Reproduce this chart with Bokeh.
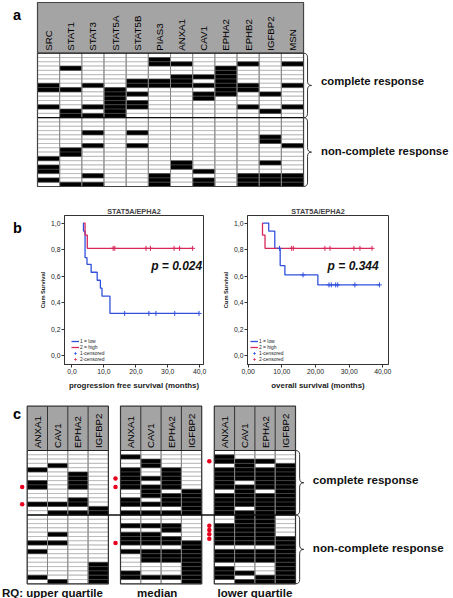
import math
from bokeh.plotting import figure
from bokeh.layouts import column, row
from bokeh.models import Range1d, FixedTicker, CustomJSTickFormatter, Legend, LegendItem
from bokeh.core.properties import value
from bokeh.embed import file_html
from bokeh.resources import INLINE

# ---------------- data ----------------
# panel a: rows 0-14 = complete response, rows 15-30 = non-complete response
genes_a = ["SRC", "STAT1", "STAT3", "STAT5A", "STAT5B", "PIAS3",
           "ANXA1", "CAV1", "EPHA2", "EPHB2", "IGFBP2", "MSN"]
n_complete = 15
n_noncomplete = 16
group_labels = ["complete response", "non-complete response"]

a_SRC = [7, 8, 12, 24, 26, 27, 29]
a_STAT1 = [3, 8, 13, 14, 22, 23, 30]
a_STAT3 = [7, 12, 14, 18, 21, 28, 30]
a_STAT5A = [8, 9, 10, 11, 12, 13, 14]
a_STAT5B = [6, 7, 9, 11, 12, 18, 21]
a_PIAS3 = [1, 2, 6, 7, 28, 29, 30]
a_ANXA1 = [2, 5, 6, 7, 25, 26]
a_CAV1 = [5, 7, 9, 10, 27, 29, 30]
a_EPHA2 = [3, 4, 5, 6, 7, 8, 9]
a_EPHB2 = [2, 7, 8, 12, 28, 29, 30]
a_IGFBP2 = [9, 13, 19, 20, 25, 28, 29, 30]
a_MSN = [2, 7, 12, 21, 28, 29, 30]

# panel b: Kaplan-Meier steps (time in months, cumulative survival)
km_title = "STAT5A/EPHA2"
pfs_low_t = [3.5, 3.6, 4.1, 4.7, 6.0, 7.9, 8.9, 9.4, 11.9, 39.8]
pfs_low_s = [1.0, 0.94, 0.74, 0.69, 0.63, 0.57, 0.51, 0.45, 0.32, 0.32]
pfs_low_cens = [16.5, 24.1, 26.3, 32.2, 39.8]
pfs_high_t = [3.7, 4.1, 4.8, 37.8]
pfs_high_s = [1.0, 0.91, 0.81, 0.81]
pfs_high_cens = [12.9, 13.4, 23.2, 24.6, 32.0, 33.7, 37.8]
os_low_t = [4.4, 6.1, 7.9, 9.5, 10.9, 20.7, 39.0]
os_low_s = [1.0, 0.94, 0.81, 0.68, 0.61, 0.535, 0.535]
os_low_cens = [9.3, 16.3, 24.0, 24.7, 26.0, 26.6, 31.7, 39.0]
os_high_t = [4.2, 4.25, 5.0, 36.8]
os_high_s = [1.0, 0.91, 0.81, 0.81]
os_high_cens = [12.9, 13.4, 22.8, 24.3, 31.4, 33.2, 36.8]
p_values = ["p = 0.024", "p = 0.344"]
p_pos_t = [24.8, 23.6]
p_pos_s = [0.68, 0.68]
x_titles = ["progression free survival (months)", "overall survival (months)"]
legend_labels = ["1 = low", "2 = high", "1-censored", "2-censored"]

# panel c
genes_c = ["ANXA1", "CAV1", "EPHA2", "IGFBP2"]
rq_labels = ["RQ: upper quartile", "median", "lower quartile"]
upper_ANXA1 = [4, 7, 8, 12, 21, 23, 29]
upper_CAV1 = [3, 12, 14, 19, 21, 30]
upper_EPHA2 = [5, 6, 7, 8, 11, 12, 14]
upper_IGFBP2 = [13, 14, 26, 27, 28, 29, 30]
median_ANXA1 = [1, 4, 5, 6, 7, 8, 11, 12, 14, 17, 19, 20, 21, 23, 28, 29]
median_CAV1 = [2, 3, 6, 8, 9, 10, 12, 14, 17, 19, 20, 21, 23, 24, 25, 29]
median_EPHA2 = [4, 5, 6, 7, 8, 10, 11, 12, 14, 17, 18, 20, 21, 23, 24, 25, 29]
median_IGFBP2 = [9, 10, 11, 12, 13, 14, 21, 22, 23, 24, 25, 26, 27, 28, 29, 30]
# lower quartile: rows that stay low (white); all other rows are high
lower_ANXA1_low = [0, 3, 9, 15, 16, 22, 26, 30]
lower_CAV1_low = [0, 1, 7, 13, 22, 26, 27, 29]
lower_EPHA2_low = [0, 1, 3, 9, 22, 26, 27, 28]
lower_IGFBP2_low = [0, 1, 2, 15, 16, 17, 18, 19]
dots_upper = [8, 12]
dots_median = [6, 8, 21]
dots_lower = [2, 17, 18, 19, 20]

# ---------------- layout constants (page px) ----------------
FONT = value("Liberation Sans")
W = 453
HA, HB, HC = 203, 189, 206
X0, X1 = 0.0, float(W)
YA0 = 0.0
YB0 = YA0 + HA
YC0 = YB0 + HB
YC1 = YC0 + HC
RH = 4.3
N = n_complete + n_noncomplete
HEAD_FILL = "#a4a4a4"


def base_fig(width, height, xr, yr):
    p = figure(width=width, height=height, x_range=Range1d(*xr), y_range=Range1d(*yr),
               output_backend="svg", toolbar_location=None, x_axis_type=None,
               y_axis_type=None, min_border=0)
    p.min_border_left = p.min_border_right = p.min_border_top = p.min_border_bottom = 0
    p.outline_line_color = None
    return p


def draw_cells(p, x_left, high_lists):
    wl, wr, wt, wb = [], [], [], []
    bl, br, bt, bb = [], [], [], []
    for ci, hi in enumerate(high_lists):
        for r in range(N):
            if r in hi:
                bl.append(x_left + ci); br.append(x_left + ci + 1); bt.append(r); bb.append(r + 1)
            else:
                wl.append(x_left + ci); wr.append(x_left + ci + 1); wt.append(r); wb.append(r + 1)
    p.quad(left=wl, right=wr, top=wt, bottom=wb, fill_color="white",
           line_color="#bcbcbc", line_width=1)
    p.quad(left=bl, right=br, top=bt, bottom=bb, fill_color="black",
           line_color="#4a4a4a", line_width=0.6)
    ncol = len(high_lists)
    xs = [x_left + i for i in range(1, ncol)]
    p.segment(x0=xs, y0=[0] * len(xs), x1=xs, y1=[N] * len(xs), line_color="#858585", line_width=1)


def brace(p, x0, y0, y1, w, q):
    xm = x0 + w / 2.0
    ym = (y0 + y1) / 2.0
    p.quadratic(x0=[x0, xm, xm, xm], y0=[y0, ym - q, ym + q, y1 - q],
                x1=[xm, x0 + w, x0 + w, x0], y1=[y0 + q, ym, ym, y1],
                cx=[xm, xm, xm, xm], cy=[y0, ym, ym, y1], line_color="#333333", line_width=1)
    p.segment(x0=[xm, xm], y0=[y0 + q, ym + q], x1=[xm, xm], y1=[ym - q, y1 - q],
              line_color="#333333", line_width=1)


# ---------------- panel a ----------------
GLa, CWa, GTa = 37.0, 22.17, 52.7
ax = lambda v: (v - GLa) / CWa
ay = lambda v: (v - GTa) / RH
pa = base_fig(W, HA, (ax(X0), ax(X1)), (ay(YB0), ay(YA0)))
a_high = [a_SRC, a_STAT1, a_STAT3, a_STAT5A, a_STAT5B, a_PIAS3,
          a_ANXA1, a_CAV1, a_EPHA2, a_EPHB2, a_IGFBP2, a_MSN]
na = len(genes_a)
pa.quad(left=[0], right=[na], top=[ay(2.0)], bottom=[0], fill_color=HEAD_FILL, line_color=None)
draw_cells(pa, 0, a_high)
pa.text(x=[i + 0.5 for i in range(na)], y=[ay(50.3)] * na, text=genes_a, angle=math.pi / 2,
        text_align="left", text_baseline="middle", text_font=FONT, text_font_size="9.7px",
        text_color="black")
pa.segment(x0=[0, 0], y0=[0, n_complete], x1=[na, na], y1=[0, n_complete],
           line_color="#111111", line_width=1.3)
pa.quad(left=[0], right=[na], top=[ay(2.0)], bottom=[N], fill_color=None,
        line_color="#444444", line_width=1.2)
bw = 8.0 / CWa
brace(pa, na, 0, n_complete, bw, 1.0)
brace(pa, na, n_complete, N, bw, 1.0)
pa.text(x=[ax(320.5)] * 2, y=[ay(80.5), ay(150.5)], text=group_labels, text_align="left",
        text_baseline="middle", text_font=FONT, text_font_style="bold", text_font_size="11.3px",
        text_color="#111111")
pa.text(x=[ax(12.5)], y=[ay(14.0)], text=["a"], text_align="left", text_baseline="alphabetic",
        text_font=FONT, text_font_style="bold", text_font_size="14.5px", text_color="black")

# ---------------- panel b ----------------
WB0, WB1, WB2 = 37, 180, 236
pb_lab = base_fig(WB0, HB, (X0, X0 + WB0), (YB0 + HB, YB0))
pb_lab.text(x=[12.5], y=[218.5], text=["b"], text_align="left", text_baseline="alphabetic",
            text_font=FONT, text_font_style="bold", text_font_size="14.5px", text_color="black")


def surv_at(t, ts, ss):
    s = ss[0]
    for ti, si in zip(ts, ss):
        if ti <= t:
            s = si
    return s


def km_fig(width, bl, br, xr, digits, xtitle, low_t, low_s, low_c, high_t, high_s, high_c,
           ptxt, pt, ps, leg_x):
    p = figure(width=width, height=HB, x_range=Range1d(*xr), y_range=Range1d(-0.064, 1.057),
               output_backend="svg", toolbar_location=None, min_border_left=bl,
               min_border_right=br, min_border_top=12, min_border_bottom=25, title=km_title)
    p.title.align = "center"
    p.title.text_font = "Liberation Sans"
    p.title.text_font_size = "7.3px"
    p.title.text_font_style = "bold"
    p.title.standoff = 0
    p.title.offset = 0
    p.grid.visible = False
    p.outline_line_color = "#333333"
    p.outline_line_width = 1
    p.background_fill_color = "white"
    p.border_fill_color = "white"
    p.xaxis.ticker = FixedTicker(ticks=[0, 10, 20, 30, 40])
    p.yaxis.ticker = FixedTicker(ticks=[0, 0.2, 0.4, 0.6, 0.8, 1.0])
    p.xaxis.formatter = CustomJSTickFormatter(code="return tick.toFixed(%d).replace('.', ',');" % digits)
    p.yaxis.formatter = CustomJSTickFormatter(code="return tick.toFixed(1).replace('.', ',');")
    for a in (p.xaxis, p.yaxis):
        a.major_label_text_font = "Liberation Sans"
        a.major_label_text_font_size = "6.8px"
        a.major_label_text_color = "#222222"
        a.major_tick_out = 3
        a.major_tick_in = 0
        a.minor_tick_out = 0
        a.minor_tick_in = 0
        a.axis_line_color = "#333333"
        a.major_tick_line_color = "#333333"
        a.major_label_standoff = 1
        a.axis_label_text_font = "Liberation Sans"
        a.axis_label_text_font_style = "bold"
        a.axis_label_text_color = "#222222"
    p.yaxis.axis_label = "Cum Survival"
    p.yaxis.axis_label_text_font_size = "5.7px"
    p.yaxis.axis_label_standoff = 2
    p.xaxis.axis_label = xtitle
    p.xaxis.axis_label_text_font_size = "7.9px"
    p.xaxis.axis_label_standoff = 4
    blue, red = "#3050dc", "#d8285a"
    r_low = p.step(x=low_t, y=low_s, mode="after", line_color=blue, line_width=1.3)
    r_high = p.step(x=high_t, y=high_s, mode="after", line_color=red, line_width=1.3)
    c_low = p.scatter(x=low_c, y=[surv_at(t, low_t, low_s) for t in low_c], marker="cross",
                      size=5, line_color=blue, line_width=1)
    c_high = p.scatter(x=high_c, y=[surv_at(t, high_t, high_s) for t in high_c], marker="cross",
                       size=5, line_color=red, line_width=1)
    p.text(x=[pt], y=[ps], text=[ptxt], text_align="left", text_baseline="middle",
           text_font=FONT, text_font_style="bold italic", text_font_size="12px",
           text_color="#111111")
    leg = Legend(items=[LegendItem(label=legend_labels[0], renderers=[r_low]),
                        LegendItem(label=legend_labels[1], renderers=[r_high]),
                        LegendItem(label=legend_labels[2], renderers=[c_low]),
                        LegendItem(label=legend_labels[3], renderers=[c_high])],
                 location=(leg_x, 2), label_text_font="Liberation Sans",
                 label_text_font_size="4.9px", label_text_color="#222222",
                 glyph_width=8, glyph_height=6, label_height=6, label_standoff=1,
                 spacing=0, padding=0, margin=0, border_line_color=None,
                 background_fill_alpha=0)
    p.add_layout(leg)
    return p


pb1 = km_fig(WB1, 23, 14, (-2.345, 41.21), 1, x_titles[0], pfs_low_t, pfs_low_s, pfs_low_cens,
             pfs_high_t, pfs_high_s, pfs_high_cens, p_values[0], p_pos_t[0], p_pos_s[0], 7)
pb2 = km_fig(WB2, 30, 65, (-0.21, 41.69), 2, x_titles[1], os_low_t, os_low_s, os_low_cens,
             os_high_t, os_high_s, os_high_cens, p_values[1], p_pos_t[1], p_pos_s[1], 3)

# ---------------- panel c ----------------
CWc, GTc = 20.3, 450.0
C_LEFTS = [26.7, 120.0, 213.8]
cx = lambda v: (v - C_LEFTS[0]) / CWc
cy = lambda v: (v - GTc) / RH
pc = base_fig(W, HC, (cx(X0), cx(X1)), (cy(YC1), cy(YC0)))
allrows = list(range(N))
lower_high = [[r for r in allrows if r not in lows] for lows in
              (lower_ANXA1_low, lower_CAV1_low, lower_EPHA2_low, lower_IGFBP2_low)]
c_sets = [[upper_ANXA1, upper_CAV1, upper_EPHA2, upper_IGFBP2],
          [median_ANXA1, median_CAV1, median_EPHA2, median_IGFBP2],
          lower_high]
c_dots = [dots_upper, dots_median, dots_lower]
nc = len(genes_c)
goffs = [cx(v) for v in C_LEFTS]
for g, off in enumerate(goffs):
    pc.quad(left=[off], right=[off + nc], top=[cy(405.7)], bottom=[0], fill_color=HEAD_FILL,
            line_color=None)
    draw_cells(pc, off, c_sets[g])
    hx = [off + i for i in range(1, nc)]
    pc.segment(x0=hx, y0=[cy(405.7)] * len(hx), x1=hx, y1=[0] * len(hx),
               line_color="#333333", line_width=1)
    pc.text(x=[off + i + 0.5 for i in range(nc)], y=[cy(447.5)] * nc, text=genes_c,
            angle=math.pi / 2, text_align="left", text_baseline="middle", text_font=FONT,
            text_font_size="9.7px", text_color="black")
    pc.segment(x0=[off], y0=[0], x1=[off + nc], y1=[0], line_color="#222222", line_width=1.2)
    pc.quad(left=[off], right=[off + nc], top=[cy(405.7)], bottom=[N], fill_color=None,
            line_color="#333333", line_width=1.2)
    dr = c_dots[g]
    pc.scatter(x=[off - 5.0 / CWc] * len(dr), y=[r + 0.5 for r in dr], size=4.5,
               fill_color="#e8001c", line_color=None)
pc.segment(x0=[goffs[0]], y0=[n_complete], x1=[goffs[2] + nc], y1=[n_complete],
           line_color="#111111", line_width=1.3)
brace(pc, goffs[2] + nc, 0, n_complete, 8.3 / CWc, 1.0)
brace(pc, goffs[2] + nc, n_complete, N, 8.3 / CWc, 1.0)
pc.text(x=[cx(312.3)] * 2, y=[cy(478.6), cy(546.8)], text=group_labels, text_align="left",
        text_baseline="middle", text_font=FONT, text_font_style="bold", text_font_size="11.6px",
        text_color="#111111")
pc.text(x=[cx(1.5)], y=[cy(592.3)], text=rq_labels[:1],
        text_align="left", text_baseline="alphabetic", text_font=FONT,
        text_font_style="bold", text_font_size="11.5px", text_color="#111111")
pc.text(x=[cx(156.7), cx(254.5)], y=[cy(592.3)] * 2, text=rq_labels[1:],
        text_align="center", text_baseline="alphabetic", text_font=FONT,
        text_font_style="bold", text_font_size="11.5px", text_color="#111111")
pc.text(x=[cx(12.5)], y=[cy(413.0)], text=["c"], text_align="left", text_baseline="alphabetic",
        text_font=FONT, text_font_style="bold", text_font_size="14.5px", text_color="black")

layout = column(pa, row(pb_lab, pb1, pb2), pc)
open("out.html", "w").write(file_html(layout, INLINE))
